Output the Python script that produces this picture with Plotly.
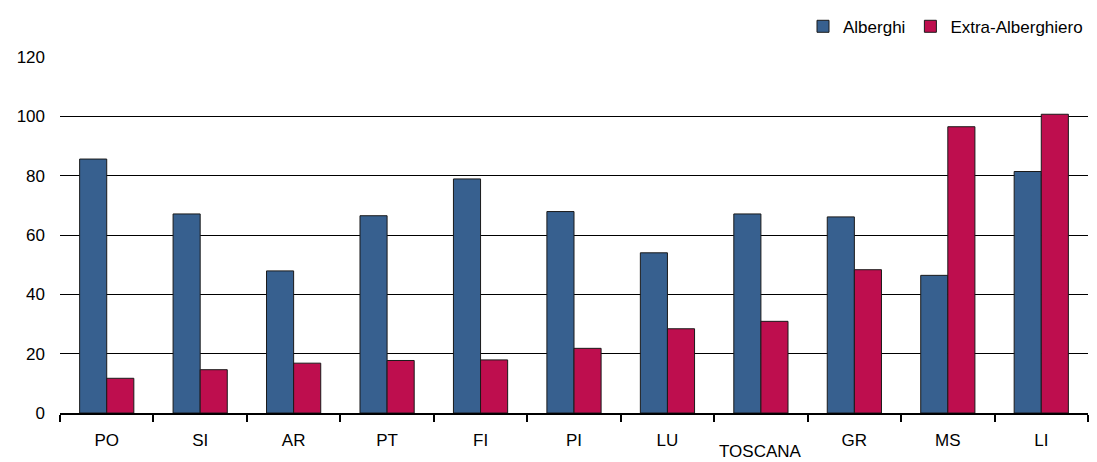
import plotly.graph_objects as go

categories = ["PO", "SI", "AR", "PT", "FI", "PI", "LU", "TOSCANA", "GR", "MS", "LI"]
tick_labels = ["PO", "SI", "AR", "PT", "FI", "PI", "LU", "", "GR", "MS", "LI"]
alberghi = [85.6, 67.1, 47.9, 66.5, 78.9, 67.9, 54.0, 67.1, 66.1, 46.4, 81.4]
extra_alberghiero = [11.7, 14.6, 16.8, 17.7, 17.9, 21.8, 28.4, 30.9, 48.3, 96.5, 100.7]
y_ticks = [0, 20, 40, 60, 80, 100, 120]

FONT = "Liberation Sans, Arial, sans-serif"
BLUE = "#37608F"
RED = "#BE0E4E"

fig = go.Figure()
fig.add_trace(go.Bar(
    name="Alberghi", x=categories, y=alberghi,
    marker=dict(color=BLUE, line=dict(color="#1a1a1a", width=1)),
))
fig.add_trace(go.Bar(
    name="Extra-Alberghiero", x=categories, y=extra_alberghiero,
    marker=dict(color=RED, line=dict(color="#1a1a1a", width=1)),
))

# the TOSCANA label sits lower than the other category labels
fig.add_annotation(x="TOSCANA", y=0, xref="x", yref="y", text="TOSCANA",
                   showarrow=False, yanchor="middle", yshift=-38, borderpad=0,
                   font=dict(family=FONT, size=17, color="black"))

# page body adds an 8px margin, so the figure is sized to fit the window
fig.update_layout(
    width=1089, height=454,
    margin=dict(l=52, r=9, t=49, b=49, autoexpand=False),
    paper_bgcolor="white", plot_bgcolor="white",
    barmode="group", bargap=0.42, bargroupgap=0,
    font=dict(family=FONT, size=17, color="black"),
    showlegend=True,
    legend=dict(orientation="h", x=1.0, xanchor="right", y=1.085, yanchor="middle",
                font=dict(size=17), itemwidth=30,
                traceorder="normal", bgcolor="rgba(0,0,0,0)"),
    xaxis=dict(
        type="category", tickmode="array", tickvals=categories, ticktext=tick_labels,
        showline=True, linecolor="black", linewidth=2, automargin=False,
        ticks="outside", tickson="boundaries", ticklen=7, tickwidth=2, tickcolor="black",
        showgrid=False, ticklabelstandoff=11,
        tickfont=dict(family=FONT, size=17),
    ),
    yaxis=dict(
        range=[0, 120], tickmode="array", tickvals=y_ticks, automargin=False,
        showgrid=True, gridcolor="black", gridwidth=1,
        showline=False, zeroline=False, ticks="", ticklabelstandoff=14,
        tickfont=dict(family=FONT, size=17),
    ),
)

fig.write_html("out.html")
